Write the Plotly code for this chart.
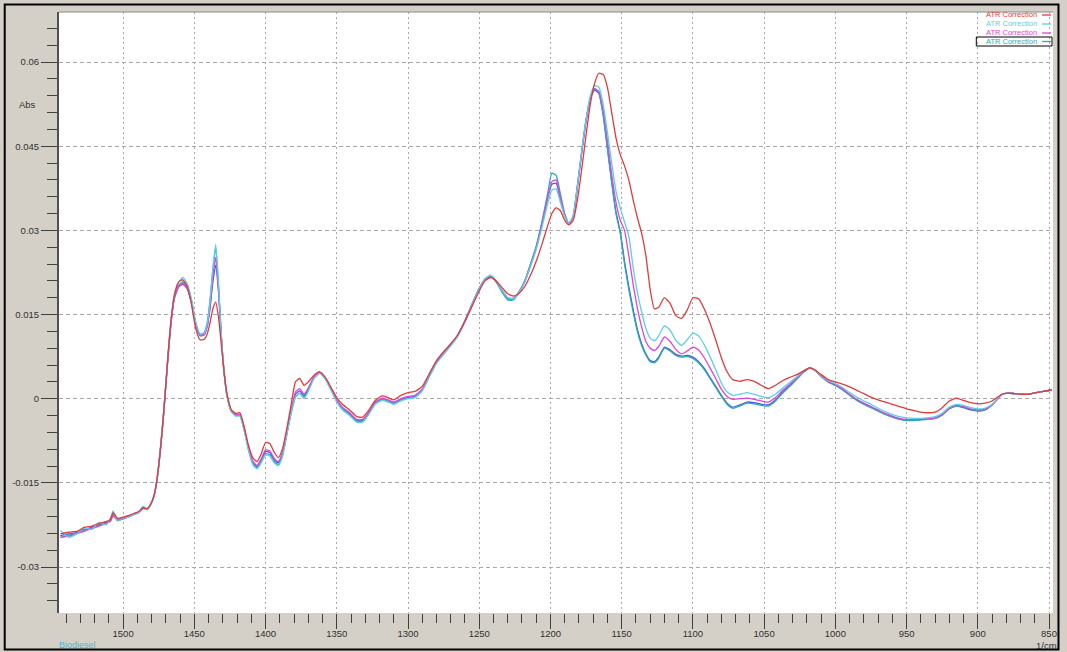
import plotly.graph_objects as go

# Wavenumber grid (1/cm), descending
wavenumber = [
    1544, 1538, 1532, 1527, 1522, 1517, 1512, 1509, 1507, 1504, 1500, 1496, 1492, 1489, 1486, 1483, 1480,
    1478, 1476, 1474, 1472, 1470, 1468, 1466, 1464, 1461, 1458, 1455, 1452, 1449, 1446, 1443, 1441,
    1439, 1437, 1435, 1433, 1431, 1429, 1427, 1424, 1421, 1418, 1415, 1412, 1409, 1406, 1403,
    1400, 1397, 1394, 1391, 1388, 1385, 1382, 1379, 1376, 1373, 1370, 1366, 1362, 1358, 1354, 1350, 1346,
    1341, 1336, 1332, 1328, 1323, 1318, 1314, 1310, 1305, 1300, 1295, 1290, 1285, 1280, 1275, 1270, 1265, 1260, 1255, 1250, 1246,
    1242, 1238, 1234, 1230, 1226, 1222, 1218, 1214, 1210, 1206, 1202, 1199, 1196, 1193, 1190, 1187,
    1184, 1181, 1178, 1175, 1172, 1169, 1166, 1163, 1160, 1157, 1154, 1151, 1148, 1145, 1142, 1139,
    1136, 1133, 1130, 1127, 1124, 1120, 1116, 1112, 1108, 1104, 1100, 1096, 1092, 1088, 1084, 1080, 1076,
    1072, 1067, 1062, 1057, 1052, 1047, 1042, 1037, 1032, 1027, 1022, 1018, 1014, 1010, 1005, 1000,
    995, 990, 985, 980, 975, 970, 965, 960, 955, 950, 945, 940, 935, 930, 925, 920,
    915, 910, 905, 900, 895, 890, 886, 883, 879, 874, 869, 864, 859, 854, 848,
]

abs_red = [
    -0.0241, -0.0238, -0.0236, -0.0229, -0.0227, -0.0222, -0.0219, -0.0215, -0.0203, -0.0213, -0.0211, -0.0208, -0.0204, -0.0201, -0.0194, -0.0196, -0.0185,
    -0.0170, -0.0140, -0.0095, -0.0040, 0.0025, 0.0092, 0.0148, 0.0185, 0.0208, 0.0212, 0.0200, 0.0168, 0.0125, 0.0105, 0.0106, 0.0115,
    0.0135, 0.0160, 0.0172, 0.0145, 0.0095, 0.0045, 0.0008, -0.0020, -0.0026, -0.0025, -0.0050, -0.0083, -0.0105, -0.0112, -0.0098,
    -0.0078, -0.0080, -0.0095, -0.0105, -0.0088, -0.0052, -0.0010, 0.0030, 0.0036, 0.0024, 0.0030, 0.0042, 0.0048, 0.0038, 0.0020, 0.0002, -0.0010,
    -0.0020, -0.0032, -0.0033, -0.0022, -0.0003, 0.0005, 0.0002, -0.0002, 0.0006, 0.0011, 0.0013, 0.0022, 0.0045, 0.0068, 0.0084, 0.0098, 0.0114, 0.0138, 0.0165, 0.0192, 0.0210,
    0.0216, 0.0210, 0.0198, 0.0187, 0.0183, 0.0188, 0.0200, 0.0220, 0.0245, 0.0275, 0.0308, 0.0330, 0.0340, 0.0335, 0.0318, 0.0310,
    0.0318, 0.0355, 0.0410, 0.0470, 0.0525, 0.0562, 0.0580, 0.0578, 0.0555, 0.0510, 0.0465, 0.0435, 0.0415, 0.0390, 0.0355, 0.0323,
    0.0295, 0.0255, 0.0195, 0.0160, 0.0163, 0.0180, 0.0170, 0.0148, 0.0143, 0.0158, 0.0180, 0.0178, 0.0160, 0.0135, 0.0105, 0.0073, 0.0048,
    0.0034, 0.0031, 0.0034, 0.0031, 0.0024, 0.0018, 0.0024, 0.0032, 0.0038, 0.0043, 0.0050, 0.0055, 0.0051, 0.0043, 0.0034, 0.0030,
    0.0026, 0.0021, 0.0015, 0.0009, 0.0003, -0.0002, -0.0006, -0.0010, -0.0014, -0.0018, -0.0021, -0.0024, -0.0025, -0.0024, -0.0016, -0.0004,
    0.0001, -0.0003, -0.0007, -0.0009, -0.0008, -0.0004, 0.0003, 0.0008, 0.0010, 0.0009, 0.0008, 0.0008, 0.0011, 0.0013, 0.0016,
]

abs_cyan = [
    -0.0235, -0.0247, -0.0240, -0.0230, -0.0233, -0.0221, -0.0225, -0.0214, -0.0200, -0.0218, -0.0213, -0.0211, -0.0206, -0.0203, -0.0192, -0.0198, -0.0186,
    -0.0171, -0.0140, -0.0093, -0.0037, 0.0028, 0.0094, 0.0150, 0.0186, 0.0208, 0.0216, 0.0205, 0.0178, 0.0136, 0.0115, 0.0117, 0.0133,
    0.0172, 0.0232, 0.0275, 0.0205, 0.0112, 0.0046, 0.0004, -0.0023, -0.0031, -0.0031, -0.0057, -0.0092, -0.0117, -0.0125, -0.0114,
    -0.0100, -0.0102, -0.0114, -0.0119, -0.0102, -0.0064, -0.0026, 0.0003, 0.0009, 0.0000, 0.0013, 0.0036, 0.0045, 0.0035, 0.0015, -0.0006, -0.0020,
    -0.0030, -0.0042, -0.0042, -0.0030, -0.0010, -0.0003, -0.0006, -0.0010, -0.0004, 0.0000, 0.0002, 0.0014, 0.0039, 0.0063, 0.0079, 0.0094, 0.0112, 0.0138, 0.0168, 0.0196, 0.0214,
    0.0220, 0.0210, 0.0193, 0.0180, 0.0178, 0.0190, 0.0208, 0.0236, 0.0266, 0.0305, 0.0347, 0.0372, 0.0374, 0.0350, 0.0325, 0.0312,
    0.0327, 0.0382, 0.0443, 0.0498, 0.0540, 0.0558, 0.0555, 0.0525, 0.0475, 0.0420, 0.0370, 0.0340, 0.0315, 0.0290, 0.0235, 0.0190,
    0.0155, 0.0125, 0.0108, 0.0103, 0.0112, 0.0130, 0.0122, 0.0104, 0.0095, 0.0105, 0.0117, 0.0112, 0.0096, 0.0075, 0.0052, 0.0028, 0.0012,
    0.0006, 0.0008, 0.0011, 0.0008, 0.0004, 0.0002, 0.0008, 0.0019, 0.0029, 0.0039, 0.0050, 0.0055, 0.0050, 0.0041, 0.0032, 0.0027,
    0.0020, 0.0011, 0.0003, -0.0004, -0.0010, -0.0017, -0.0023, -0.0028, -0.0032, -0.0034, -0.0035, -0.0035, -0.0034, -0.0032, -0.0026, -0.0015,
    -0.0010, -0.0012, -0.0016, -0.0018, -0.0017, -0.0010, 0.0001, 0.0008, 0.0010, 0.0009, 0.0008, 0.0008, 0.0011, 0.0013, 0.0016,
]

abs_magenta = [
    -0.0247, -0.0245, -0.0240, -0.0236, -0.0231, -0.0227, -0.0222, -0.0219, -0.0209, -0.0217, -0.0214, -0.0210, -0.0206, -0.0203, -0.0196, -0.0197, -0.0185,
    -0.0170, -0.0140, -0.0095, -0.0040, 0.0025, 0.0090, 0.0144, 0.0180, 0.0200, 0.0205, 0.0197, 0.0172, 0.0133, 0.0113, 0.0115, 0.0130,
    0.0165, 0.0218, 0.0252, 0.0195, 0.0108, 0.0045, 0.0005, -0.0022, -0.0029, -0.0028, -0.0053, -0.0087, -0.0111, -0.0119, -0.0107,
    -0.0091, -0.0093, -0.0106, -0.0112, -0.0095, -0.0058, -0.0020, 0.0012, 0.0018, 0.0008, 0.0019, 0.0039, 0.0047, 0.0037, 0.0017, -0.0002, -0.0015,
    -0.0025, -0.0037, -0.0037, -0.0026, -0.0006, 0.0001, -0.0002, -0.0006, 0.0000, 0.0004, 0.0006, 0.0017, 0.0041, 0.0065, 0.0081, 0.0096, 0.0113, 0.0138, 0.0167, 0.0195, 0.0212,
    0.0217, 0.0209, 0.0193, 0.0180, 0.0179, 0.0190, 0.0208, 0.0237, 0.0268, 0.0310, 0.0357, 0.0387, 0.0390, 0.0358, 0.0328, 0.0312,
    0.0325, 0.0380, 0.0440, 0.0495, 0.0535, 0.0552, 0.0548, 0.0515, 0.0460, 0.0400, 0.0350, 0.0318, 0.0300, 0.0255, 0.0205, 0.0162,
    0.0128, 0.0102, 0.0090, 0.0086, 0.0093, 0.0110, 0.0102, 0.0088, 0.0080, 0.0085, 0.0092, 0.0087, 0.0073, 0.0055, 0.0036, 0.0017, 0.0004,
    -0.0001, 0.0000, 0.0001, -0.0001, -0.0004, -0.0006, 0.0002, 0.0015, 0.0026, 0.0037, 0.0049, 0.0055, 0.0050, 0.0040, 0.0031, 0.0025,
    0.0018, 0.0008, -0.0001, -0.0008, -0.0014, -0.0020, -0.0026, -0.0031, -0.0035, -0.0037, -0.0037, -0.0036, -0.0035, -0.0034, -0.0028, -0.0017,
    -0.0012, -0.0014, -0.0018, -0.0020, -0.0018, -0.0011, 0.0000, 0.0008, 0.0010, 0.0009, 0.0008, 0.0008, 0.0011, 0.0013, 0.0016,
]

abs_teal = [
    -0.0247, -0.0243, -0.0240, -0.0234, -0.0232, -0.0226, -0.0222, -0.0218, -0.0207, -0.0216, -0.0214, -0.0210, -0.0205, -0.0202, -0.0193, -0.0197, -0.0185,
    -0.0170, -0.0140, -0.0095, -0.0040, 0.0025, 0.0090, 0.0145, 0.0180, 0.0202, 0.0208, 0.0200, 0.0175, 0.0135, 0.0115, 0.0118, 0.0135,
    0.0175, 0.0230, 0.0270, 0.0200, 0.0110, 0.0045, 0.0005, -0.0022, -0.0030, -0.0030, -0.0055, -0.0090, -0.0115, -0.0123, -0.0112,
    -0.0098, -0.0100, -0.0112, -0.0117, -0.0100, -0.0062, -0.0025, 0.0003, 0.0010, 0.0002, 0.0015, 0.0037, 0.0046, 0.0036, 0.0017, -0.0004, -0.0018,
    -0.0028, -0.0040, -0.0040, -0.0028, -0.0008, -0.0001, -0.0004, -0.0009, -0.0003, 0.0001, 0.0003, 0.0015, 0.0040, 0.0064, 0.0080, 0.0095, 0.0112, 0.0138, 0.0167, 0.0195, 0.0212,
    0.0218, 0.0208, 0.0190, 0.0176, 0.0176, 0.0190, 0.0210, 0.0240, 0.0272, 0.0315, 0.0365, 0.0402, 0.0398, 0.0365, 0.0330, 0.0312,
    0.0325, 0.0380, 0.0440, 0.0495, 0.0535, 0.0553, 0.0545, 0.0505, 0.0445, 0.0385, 0.0330, 0.0295, 0.0240, 0.0195, 0.0155, 0.0120,
    0.0095, 0.0078, 0.0066, 0.0064, 0.0072, 0.0090, 0.0085, 0.0077, 0.0074, 0.0075, 0.0072, 0.0064, 0.0052, 0.0036, 0.0020, 0.0004, -0.0010,
    -0.0017, -0.0013, -0.0008, -0.0009, -0.0012, -0.0013, -0.0004, 0.0010, 0.0022, 0.0035, 0.0048, 0.0055, 0.0050, 0.0040, 0.0030, 0.0024,
    0.0016, 0.0006, -0.0003, -0.0010, -0.0016, -0.0022, -0.0028, -0.0033, -0.0037, -0.0039, -0.0039, -0.0038, -0.0037, -0.0035, -0.0029, -0.0018,
    -0.0013, -0.0015, -0.0019, -0.0021, -0.0019, -0.0011, 0.0000, 0.0008, 0.0010, 0.0009, 0.0008, 0.0008, 0.0011, 0.0013, 0.0016,
]

abs_blue = [
    -0.0244, -0.0241, -0.0238, -0.0233, -0.0229, -0.0225, -0.0220, -0.0217, -0.0207, -0.0215, -0.0212, -0.0209, -0.0205, -0.0202, -0.0195, -0.0196, -0.0185,
    -0.0170, -0.0141, -0.0096, -0.0041, 0.0024, 0.0089, 0.0143, 0.0179, 0.0199, 0.0204, 0.0196, 0.0171, 0.0132, 0.0112, 0.0114, 0.0128,
    0.0160, 0.0208, 0.0238, 0.0190, 0.0106, 0.0044, 0.0004, -0.0022, -0.0029, -0.0029, -0.0054, -0.0089, -0.0114, -0.0121, -0.0109,
    -0.0094, -0.0096, -0.0109, -0.0114, -0.0097, -0.0060, -0.0022, 0.0008, 0.0014, 0.0005, 0.0017, 0.0038, 0.0046, 0.0036, 0.0016, -0.0003, -0.0017,
    -0.0027, -0.0039, -0.0039, -0.0027, -0.0007, 0.0000, -0.0003, -0.0008, -0.0002, 0.0002, 0.0004, 0.0016, 0.0041, 0.0066, 0.0082, 0.0097, 0.0114, 0.0140, 0.0169, 0.0197, 0.0213,
    0.0218, 0.0208, 0.0191, 0.0178, 0.0178, 0.0191, 0.0210, 0.0239, 0.0270, 0.0312, 0.0358, 0.0382, 0.0384, 0.0355, 0.0327, 0.0312,
    0.0325, 0.0380, 0.0441, 0.0496, 0.0536, 0.0550, 0.0544, 0.0507, 0.0448, 0.0388, 0.0333, 0.0298, 0.0245, 0.0200, 0.0160, 0.0124,
    0.0098, 0.0080, 0.0068, 0.0066, 0.0074, 0.0092, 0.0087, 0.0079, 0.0076, 0.0077, 0.0074, 0.0066, 0.0054, 0.0038, 0.0022, 0.0006, -0.0008,
    -0.0015, -0.0011, -0.0006, -0.0007, -0.0010, -0.0011, -0.0002, 0.0012, 0.0023, 0.0036, 0.0048, 0.0055, 0.0050, 0.0040, 0.0030, 0.0024,
    0.0016, 0.0007, -0.0002, -0.0009, -0.0015, -0.0021, -0.0027, -0.0032, -0.0036, -0.0038, -0.0038, -0.0037, -0.0036, -0.0035, -0.0029, -0.0018,
    -0.0013, -0.0016, -0.0020, -0.0022, -0.0020, -0.0011, 0.0000, 0.0008, 0.0010, 0.0009, 0.0008, 0.0008, 0.0011, 0.0013, 0.0016,
]

series_names = ["ATR Correction", "ATR Correction", "ATR Correction", "ATR Correction"]
x_tick_vals = [1500, 1450, 1400, 1350, 1300, 1250, 1200, 1150, 1100, 1050, 1000, 950, 900, 850]
y_tick_vals = [0.06, 0.045, 0.03, 0.015, 0, -0.015, -0.03]
y_tick_text = ["0.06", "0.045", "0.03", "0.015", "0", "-0.015", "-0.03"]

RED, CYAN, MAGENTA, TEAL, BLUE = "#e23b3b", "#5ccfe6", "#e044dc", "#2aaab4", "#4a5ad8"

fig = go.Figure()
traces = [
    (abs_blue, BLUE),
    (abs_teal, TEAL),
    (abs_magenta, MAGENTA),
    (abs_cyan, CYAN),
    (abs_red, RED),
]
for vals, col in traces:
    assert len(vals) == len(wavenumber)
    fig.add_trace(go.Scatter(
        x=wavenumber, y=vals, mode="lines",
        line=dict(color=col, width=1.3, shape="spline", smoothing=0.5),
        hoverinfo="skip",
    ))

# Plot area spans pixels x 59..1057, y 12..613
PX0, PX1, PY0, PY1 = 59, 1057, 12, 613


def px(x):
    return (x - PX0) / (PX1 - PX0)


def py(y):
    return (PY1 - y) / (PY1 - PY0)


tick_col = "#404040"
fig.update_layout(
    width=1067, height=652,
    margin=dict(l=PX0, r=1067 - PX1, t=PY0, b=652 - PY1),
    paper_bgcolor="#d4d0c8",
    plot_bgcolor="white",
    showlegend=False,
    font=dict(family="Liberation Sans, Arial, sans-serif", size=10, color="#303030"),
    xaxis=dict(
        range=[1545, 847.2],
        tickmode="array", tickvals=x_tick_vals,
        ticks="outside", ticklen=15, tickwidth=1, tickcolor=tick_col,
        tickfont=dict(size=9.5, color="#303030"),
        ticklabelstandoff=-3,
        showgrid=True, gridcolor="#a8a8a8", gridwidth=1, griddash="2px,3px",
        showline=False, zeroline=False,
        minor=dict(tickmode="linear", tick0=850, dtick=10, ticks="outside",
                   ticklen=9, tickwidth=1, tickcolor=tick_col, showgrid=False),
    ),
    yaxis=dict(
        range=[-0.03819, 0.06892],
        tickmode="array", tickvals=y_tick_vals, ticktext=y_tick_text,
        ticks="outside", ticklen=16, tickwidth=1, tickcolor=tick_col,
        tickfont=dict(size=9.5, color="#303030"),
        showgrid=True, gridcolor="#a8a8a8", gridwidth=1, griddash="4px,3px",
        showline=True, linecolor="#505050", linewidth=2,
        zeroline=False,
        minor=dict(tickmode="linear", tick0=0, dtick=0.003, ticks="outside",
                   ticklen=10, tickwidth=1, tickcolor=tick_col, showgrid=False),
    ),
)

shapes = [
    # window frame
    dict(type="rect", xref="paper", yref="paper",
         x0=px(4.5), x1=px(1062.5), y0=py(649.5), y1=py(4.5),
         line=dict(color="black", width=2), fillcolor="rgba(0,0,0,0)"),
    # top edge of plot area
    dict(type="line", xref="paper", yref="paper", x0=0, x1=1, y0=1, y1=1,
         line=dict(color="#8a8a8a", width=1)),
]
annotations = [
    dict(text="Abs", xref="paper", yref="y", x=px(27), y=0.0525,
         xanchor="center", yanchor="middle",
         showarrow=False, font=dict(size=9.5, color="#303030")),
    dict(text="1/cm", xref="paper", yref="paper", x=px(1050), y=py(645.5),
         xanchor="center", yanchor="middle",
         showarrow=False, font=dict(size=9.5, color="#303030")),
    dict(text="Biodiesel", xref="paper", yref="paper", x=px(57), y=py(645),
         xanchor="left", yanchor="middle",
         showarrow=False, font=dict(size=9, color="#4ab8d0")),
]

# legend entries (text right-aligned with a line sample on the right)
legend_rows = [15, 24, 33, 41.5]
for name, row, col in zip(series_names, legend_rows, [RED, CYAN, MAGENTA, TEAL]):
    annotations.append(dict(text=name, xref="paper", yref="paper", x=px(1043), y=py(row),
                            xanchor="right", yanchor="middle", showarrow=False,
                            font=dict(size=7.5, color=col)))
    shapes.append(dict(type="line", xref="paper", yref="paper",
                       x0=px(1046), x1=px(1055), y0=py(row), y1=py(row),
                       line=dict(color=col, width=1.3)))
shapes.append(dict(type="rect", xref="paper", yref="paper",
                   x0=px(980), x1=px(1056), y0=py(46), y1=py(37),
                   line=dict(color="black", width=1), fillcolor="rgba(0,0,0,0)"))

fig.update_layout(shapes=shapes, annotations=annotations)
fig.write_html("out.html")
